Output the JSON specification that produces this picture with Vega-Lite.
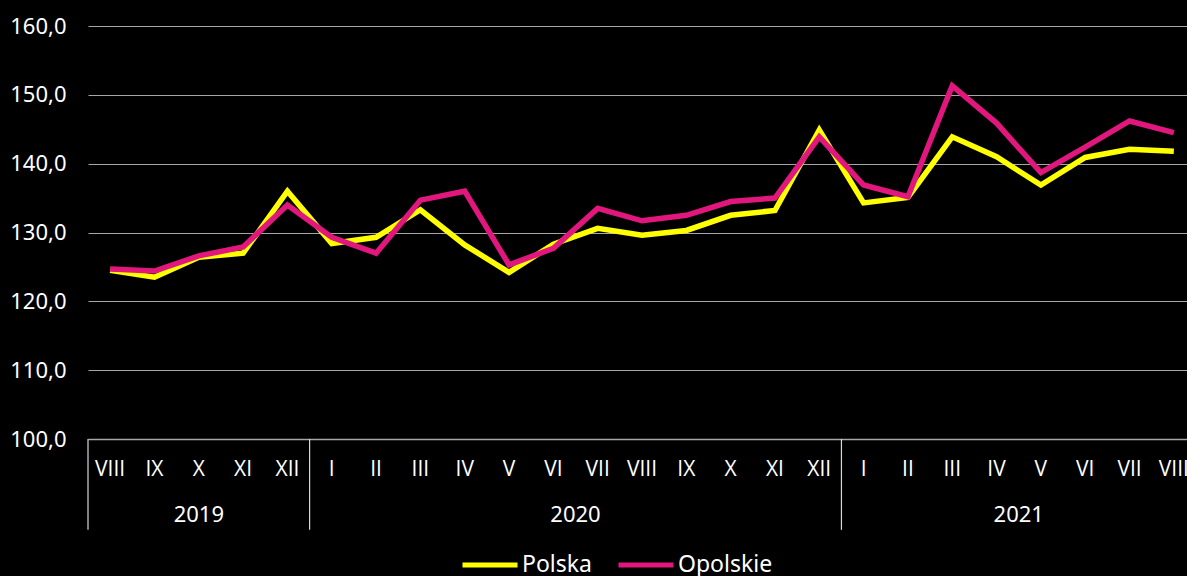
{
  "$schema": "https://vega.github.io/schema/vega-lite/v6.json",
  "autosize": {"type": "none"},
  "width": 1099,
  "height": 413,
  "padding": {"left": 88, "top": 26, "right": 0, "bottom": 137},
  "background": "#000000",
  "config": {
    "view": {"stroke": null},
    "font": "Noto Sans",
    "text": {"font": "Noto Sans"},
    "axis": {"labelFont": "Noto Sans", "labelColor": "#ffffff"},
    "legend": {"labelFont": "Noto Sans", "labelColor": "#ffffff"}
  },
  "datasets": {
    "series": [
      {"m": "VIII 2019", "s": "Polska", "v": 124.5},
      {"m": "IX 2019", "s": "Polska", "v": 123.5},
      {"m": "X 2019", "s": "Polska", "v": 126.4},
      {"m": "XI 2019", "s": "Polska", "v": 127.0},
      {"m": "XII 2019", "s": "Polska", "v": 136.0},
      {"m": "I 2020", "s": "Polska", "v": 128.4},
      {"m": "II 2020", "s": "Polska", "v": 129.3},
      {"m": "III 2020", "s": "Polska", "v": 133.3},
      {"m": "IV 2020", "s": "Polska", "v": 128.2},
      {"m": "V 2020", "s": "Polska", "v": 124.2},
      {"m": "VI 2020", "s": "Polska", "v": 128.3},
      {"m": "VII 2020", "s": "Polska", "v": 130.6},
      {"m": "VIII 2020", "s": "Polska", "v": 129.6},
      {"m": "IX 2020", "s": "Polska", "v": 130.3},
      {"m": "X 2020", "s": "Polska", "v": 132.5},
      {"m": "XI 2020", "s": "Polska", "v": 133.2},
      {"m": "XII 2020", "s": "Polska", "v": 144.9},
      {"m": "I 2021", "s": "Polska", "v": 134.3},
      {"m": "II 2021", "s": "Polska", "v": 135.1},
      {"m": "III 2021", "s": "Polska", "v": 143.9},
      {"m": "IV 2021", "s": "Polska", "v": 141.0},
      {"m": "V 2021", "s": "Polska", "v": 136.9},
      {"m": "VI 2021", "s": "Polska", "v": 140.9},
      {"m": "VII 2021", "s": "Polska", "v": 142.1},
      {"m": "VIII 2021", "s": "Polska", "v": 141.8},
      {"m": "VIII 2019", "s": "Opolskie", "v": 124.7},
      {"m": "IX 2019", "s": "Opolskie", "v": 124.4},
      {"m": "X 2019", "s": "Opolskie", "v": 126.6},
      {"m": "XI 2019", "s": "Opolskie", "v": 127.9},
      {"m": "XII 2019", "s": "Opolskie", "v": 134.0},
      {"m": "I 2020", "s": "Opolskie", "v": 129.3},
      {"m": "II 2020", "s": "Opolskie", "v": 127.0},
      {"m": "III 2020", "s": "Opolskie", "v": 134.7},
      {"m": "IV 2020", "s": "Opolskie", "v": 136.0},
      {"m": "V 2020", "s": "Opolskie", "v": 125.3},
      {"m": "VI 2020", "s": "Opolskie", "v": 127.7},
      {"m": "VII 2020", "s": "Opolskie", "v": 133.5},
      {"m": "VIII 2020", "s": "Opolskie", "v": 131.7},
      {"m": "IX 2020", "s": "Opolskie", "v": 132.5},
      {"m": "X 2020", "s": "Opolskie", "v": 134.5},
      {"m": "XI 2020", "s": "Opolskie", "v": 135.0},
      {"m": "XII 2020", "s": "Opolskie", "v": 143.9},
      {"m": "I 2021", "s": "Opolskie", "v": 136.9},
      {"m": "II 2021", "s": "Opolskie", "v": 135.2},
      {"m": "III 2021", "s": "Opolskie", "v": 151.3},
      {"m": "IV 2021", "s": "Opolskie", "v": 145.9},
      {"m": "V 2021", "s": "Opolskie", "v": 138.7},
      {"m": "VI 2021", "s": "Opolskie", "v": 142.4},
      {"m": "VII 2021", "s": "Opolskie", "v": 146.2},
      {"m": "VIII 2021", "s": "Opolskie", "v": 144.5}
    ],
    "years": [
      {"year": "2019", "first": "VIII 2019", "mid": "X 2019"},
      {"year": "2020", "first": "I 2020", "mid": "VII 2020"},
      {"year": "2021", "first": "I 2021", "mid": "V 2021"}
    ]
  },
  "resolve": {"scale": {"x": "shared", "y": "shared"}},
  "layer": [
    {
      "data": {"name": "series"},
      "mark": {"type": "line", "strokeWidth": 5.5, "strokeJoin": "miter", "strokeCap": "butt"},
      "encoding": {
        "x": {
          "field": "m", "type": "ordinal", "sort": null, "bandPosition": 0.5,
          "scale": {
            "type": "band", "paddingInner": 0, "paddingOuter": 0, "range": [0, 1108],
            "domain": ["VIII 2019","IX 2019","X 2019","XI 2019","XII 2019","I 2020","II 2020","III 2020","IV 2020","V 2020","VI 2020","VII 2020","VIII 2020","IX 2020","X 2020","XI 2020","XII 2020","I 2021","II 2021","III 2021","IV 2021","V 2021","VI 2021","VII 2021","VIII 2021"]
          },
          "axis": {
            "title": null, "labelAngle": 0, "labelExpr": "split(datum.value, ' ')[0]",
            "labelFont": "Open Sans",
            "labelFontSize": 21, "labelPadding": 19, "ticks": false, "grid": false,
            "domain": true, "domainColor": "#a6a6a6", "domainWidth": 1.5, "labelColor": "#ffffff"
          }
        },
        "y": {
          "field": "v", "type": "quantitative",
          "scale": {"domain": [100, 160], "nice": false, "zero": false},
          "axis": {
            "title": null, "values": [100, 110, 120, 130, 140, 150, 160],
            "labelExpr": "replace(format(datum.value, '.1f'), '.', ',')",
            "labelFontSize": 22, "labelPadding": 22, "ticks": false, "domain": false,
            "grid": true, "gridColor": "#a6a6a6", "gridWidth": 1.2, "labelColor": "#ffffff"
          }
        },
        "color": {
          "field": "s", "type": "nominal",
          "scale": {"domain": ["Polska", "Opolskie"], "range": ["#ffff00", "#e2177d"]},
          "legend": {
            "title": null, "orient": "none", "direction": "horizontal",
            "legendX": 372, "legendY": 509,
            "symbolType": "stroke", "symbolStrokeWidth": 5, "symbolSize": 3025,
            "labelFontSize": 23, "labelOffset": 2, "columnPadding": 16, "labelColor": "#ffffff"
          }
        }
      }
    },
    {
      "data": {"name": "years"},
      "mark": {"type": "rule", "color": "#d9d9d9", "strokeWidth": 1.2},
      "encoding": {
        "x": {"field": "first", "type": "ordinal", "bandPosition": 0},
        "y": {"datum": 100},
        "y2": {"datum": 86.8}
      }
    },
    {
      "data": {"name": "years"},
      "transform": [{"filter": "datum.year == '2019'"}],
      "mark": {"type": "text", "color": "#ffffff", "fontSize": 22, "baseline": "middle", "align": "center"},
      "encoding": {
        "x": {"field": "mid", "type": "ordinal", "bandPosition": 0.5},
        "y": {"datum": 89.0},
        "text": {"field": "year"}
      }
    },
    {
      "data": {"name": "years"},
      "transform": [{"filter": "datum.year != '2019'"}],
      "mark": {"type": "text", "color": "#ffffff", "fontSize": 22, "baseline": "middle", "align": "center"},
      "encoding": {
        "x": {"field": "mid", "type": "ordinal", "bandPosition": 0},
        "y": {"datum": 89.0},
        "text": {"field": "year"}
      }
    }
  ]
}
